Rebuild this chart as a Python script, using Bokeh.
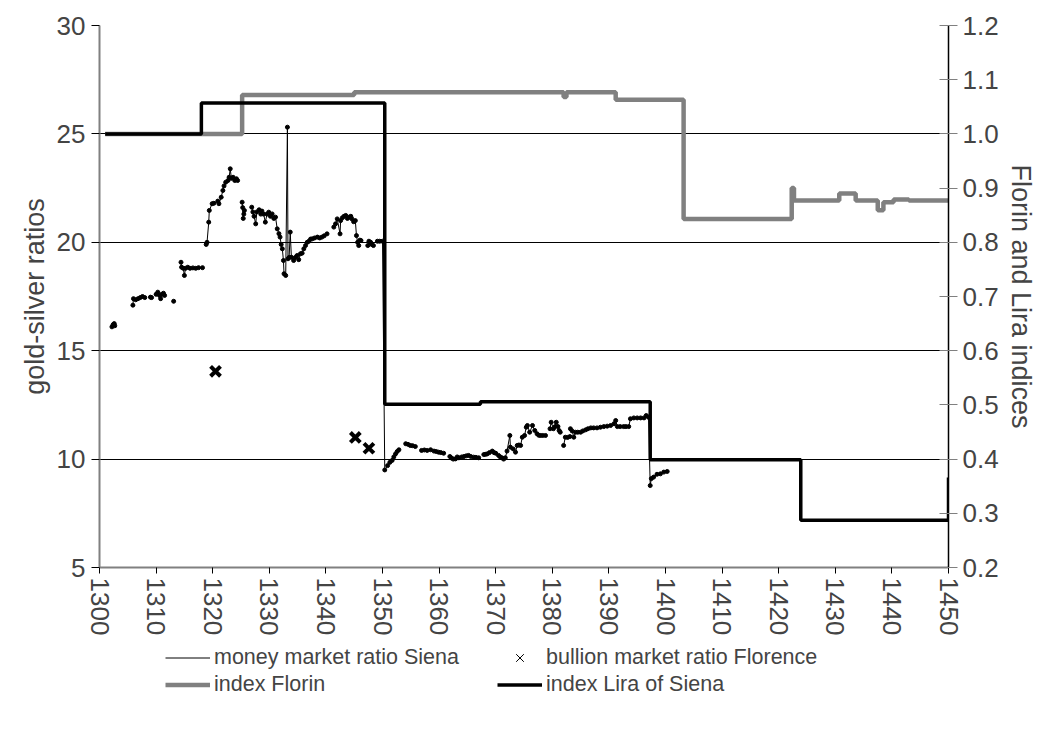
from bokeh.plotting import figure
from bokeh.layouts import column
from bokeh.models import (LinearAxis, Range1d, FixedTicker, NumeralTickFormatter,
                          Legend, LegendItem)
from bokeh.embed import file_html
from bokeh.resources import INLINE

NaN = float("nan")

# ---------------- data ----------------
x_ticks = [1300, 1310, 1320, 1330, 1340, 1350, 1360, 1370, 1380, 1390, 1400,
           1410, 1420, 1430, 1440, 1450]
ratio_ticks = [5, 10, 15, 20, 25, 30]
index_ticks = [0.2, 0.3, 0.4, 0.5, 0.6, 0.7, 0.8, 0.9, 1.0, 1.1, 1.2]

# money market ratio Siena (NaN = gap in the series)
money_year = [
    1302.2, 1302.4, 1302.6, 1302.7, NaN,
    1305.9, 1306.0, 1306.4, 1306.8, 1307.2, 1307.6, 1308.0, NaN,
    1309.0, 1309.2, NaN,
    1310.0, 1310.3, 1310.6, 1310.8, 1311.0, 1311.3, 1311.5, NaN,
    1313.1, NaN,
    1314.4, 1314.5, 1314.8, 1315.0, 1315.2, 1315.6, 1316.0, 1316.5, 1317.0, 1317.5, 1318.2, NaN,
    1318.85, 1319.0, 1319.3, 1319.4, 1319.9, 1320.2, 1320.9, 1321.1, 1321.5, 1321.8, 1322.0,
    1322.3, 1322.7, 1322.9, 1323.1, 1323.3, 1323.6, 1323.9, 1324.2, 1324.4, NaN,
    1325.2, 1325.3, 1325.4, 1325.5, 1325.6, NaN,
    1326.9, 1327.1, 1327.3, 1327.6, 1327.8, 1328.2, 1328.5, 1328.7, 1329.0, 1329.3, 1329.6,
    1329.9, 1330.2, 1330.5, 1330.8, 1331.1, 1331.4, 1331.7, 1331.9, 1332.1, 1332.3, 1332.5,
    1332.6, 1332.9, 1333.2, 1333.3, 1333.5, 1333.7, 1333.9, 1334.3, 1334.6, 1334.9, 1335.2,
    1335.5, 1335.8, 1336.1, 1336.4, 1336.7, 1337.0, 1337.3, 1337.6, 1338.0, 1338.5, 1338.9,
    1339.3, 1339.7, 1340.2, NaN,
    1341.4, 1341.7, 1342.0, 1342.5, 1342.6, 1342.9, 1343.2, 1343.5, 1343.8, 1344.1, 1344.4,
    1344.6, 1344.9, 1345.2, 1345.4, 1345.6, 1345.8, 1346.0, 1346.2, NaN,
    1347.4, 1347.6, 1347.9, 1348.1, 1348.4, NaN,
    1349.1, 1349.5, 1350.0, 1350.4, 1350.9, 1351.3, 1351.7, 1352.0, 1352.3, 1352.6, 1352.9, NaN,
    1354.1, 1354.5, 1354.9, 1355.3, 1355.8, NaN,
    1356.9, 1357.4, 1357.9, 1358.5, 1359.1, 1359.5, 1359.9, 1360.3, 1360.8, NaN,
    1361.9, 1362.2, 1362.5, 1362.9, 1363.2, 1363.5, 1364.0, 1364.4, 1364.8, 1365.2, 1365.6,
    1366.1, 1366.5, 1367.0, NaN,
    1367.9, 1368.2, 1368.5, 1368.9, 1369.4, 1369.7, 1370.0, 1370.5, 1370.8, 1371.1, 1371.4,
    1371.7, 1372.0, 1372.5, 1372.6, 1373.1, 1373.5, 1373.8, 1374.1, 1374.4, 1374.7, 1375.1,
    1375.4, 1375.6, 1376.0, 1376.5, 1376.9, 1377.3, 1377.6, 1377.9, 1378.3, 1378.8, NaN,
    1379.6, 1379.8, 1380.2, 1380.5, 1380.7, 1381.0, 1381.2, 1381.4, NaN,
    1382.0, 1382.3, 1382.7, 1383.1, NaN,
    1383.2, 1383.5, 1383.8, 1384.1, 1384.5, 1385.0, 1385.4, 1385.9, 1386.3, 1386.8, 1387.3,
    1387.9, 1388.5, 1389.1, 1389.7, 1390.3, 1390.9, 1391.2, 1391.5, 1392.0, 1392.6, 1393.0,
    1393.5, 1393.8, 1394.4, 1395.0, 1395.6, 1396.2, 1396.6, 1397.0, 1397.3, 1397.5, 1397.9,
    1398.5, 1399.1, 1399.7, 1400.3,
]
money_ratio = [
    16.1, 16.2, 16.25, 16.15, NaN,
    17.1, 17.4, 17.35, 17.4, 17.45, 17.5, 17.45, NaN,
    17.47, 17.45, NaN,
    17.6, 17.7, 17.55, 17.4, 17.6, 17.65, 17.55, NaN,
    17.28, NaN,
    19.08, 18.85, 18.8, 18.47, 18.8, 18.85, 18.8, 18.82, 18.8, 18.83, 18.83, NaN,
    19.9, 20.0, 20.93, 21.47, 21.78, 21.8, 21.9, 21.78, 22.08, 22.39, 22.6,
    22.77, 22.85, 23.0, 23.39, 22.95, 23.0, 22.85, 22.93, 22.85, NaN,
    21.85, 21.6, 21.1, 21.3, 21.47, NaN,
    21.62, 21.4, 21.2, 20.85, 21.4, 21.5, 21.3, 21.44, 21.3, 20.93, 21.3,
    21.39, 21.2, 21.31, 21.1, 21.16, 20.62, 20.4, 20.24, 19.9, 19.7, 19.16,
    18.55, 18.47, 25.31, 19.24, 19.3, 20.47, 19.31, 19.16, 19.3, 19.39, 19.2,
    19.47, 19.5, 19.7, 19.85, 20.0, 20.05, 20.15, 20.16, 20.2, 20.24, 20.2,
    20.24, 20.3, 20.39, NaN,
    20.70, 20.85, 21.08, 20.39, 21.0, 21.13, 21.2, 21.24, 21.1, 21.16, 21.2,
    21.08, 20.95, 21.0, 20.31, 20.0, 19.85, 20.1, 20.08, NaN,
    19.85, 20.05, 20.0, 19.9, 19.85, NaN,
    20.05, 20.05, 20.05, 9.5, 9.7, 9.85, 9.94, 10.1, 10.24, 10.35, 10.43, NaN,
    10.71, 10.68, 10.63, 10.62, 10.58, NaN,
    10.4, 10.42, 10.4, 10.43, 10.37, 10.35, 10.32, 10.3, 10.27, NaN,
    10.12, 10.05, 10.0, 10.01, 10.1, 10.06, 10.1, 10.12, 10.15, 10.17, 10.12,
    10.09, 10.08, 10.06, NaN,
    10.21, 10.22, 10.24, 10.3, 10.37, 10.3, 10.27, 10.17, 10.1, 10.06, 10.0,
    10.06, 10.37, 11.09, 10.55, 10.47, 10.32, 10.63, 10.65, 10.63, 11.01, 11.09,
    11.47, 11.55, 11.24, 11.55, 11.32, 11.17, 11.1, 11.09, 11.09, 11.09, NaN,
    11.40, 11.70, 11.40, 11.5, 11.70, 11.5, 11.32, 11.24, NaN,
    10.63, 11.01, 11.0, 11.04, NaN,
    11.4, 11.3, 11.01, 11.24, 11.24, 11.24, 11.3, 11.35, 11.4, 11.44, 11.44,
    11.44, 11.47, 11.50, 11.52, 11.55, 11.63, 11.78, 11.50, 11.5, 11.50, 11.5,
    11.50, 11.86, 11.9, 11.90, 11.9, 11.90, 12.01, 11.93, 8.78, 9.1, 9.17,
    9.3, 9.32, 9.4, 9.43,
]

# bullion market ratio Florence
bullion_year = [1320.5, 1345.2, 1347.6]
bullion_ratio = [14.05, 11.0, 10.5]

# index Florin (step, value holds until next year)
florin_year = [1301, 1325.2, 1345.0, 1382.0, 1382.5, 1391.2, 1403.2, 1422.3, 1422.7,
               1430.7, 1433.6, 1437.5, 1438.5, 1440.3, 1443.0, 1450]
florin_index = [1.0, 1.072, 1.077, 1.068, 1.077, 1.063, 0.843, 0.900, 0.877,
                0.890, 0.877, 0.859, 0.874, 0.879, 0.877, 0.877]

# index Lira of Siena
lira_year = [1301, 1318.0, 1350.4, 1367.3, 1397.3, 1423.9, 1450]
lira_index = [1.0, 1.057, 0.501, 0.506, 0.399, 0.287, 0.366]

# ---------------- styles ----------------
FONT = "Liberation Sans"
GRAY = "#808080"
TICK_FS = "26px"
LABEL_FS = "27px"

FLORIN_STYLE = dict(line_color=GRAY, line_width=4.5)
LIRA_STYLE = dict(line_color="black", line_width=3.5)
MONEY_LINE_STYLE = dict(line_color="black", line_width=1)
MONEY_PT_STYLE = dict(marker="circle", size=4, fill_color="black", line_color="black")
BULLION_LEG_STYLE = dict(marker="x", size=10, line_color="black", line_width=1)

# ---------------- main chart ----------------
p = figure(width=1039, height=642,
           x_range=Range1d(1300, 1450), y_range=Range1d(5, 30),
           output_backend="svg", toolbar_location=None,
           min_border_left=99, min_border_right=91, min_border_top=25,
           min_border_bottom=75)
p.extra_y_ranges = {"idx": Range1d(0.2, 1.2)}
p.outline_line_color = None

p.xgrid.visible = False
p.ygrid.ticker = FixedTicker(ticks=ratio_ticks)
p.ygrid.grid_line_color = "black"
p.ygrid.grid_line_width = 1

ya = p.yaxis[0]
ya.ticker = FixedTicker(ticks=ratio_ticks)
ya.axis_label = "gold-silver ratios"
ya.axis_label_text_font = FONT
ya.axis_label_text_font_size = LABEL_FS
ya.axis_label_text_font_style = "normal"
ya.axis_label_standoff = 4
ya.major_label_text_font = FONT
ya.major_label_text_font_size = TICK_FS
ya.axis_line_color = GRAY
ya.axis_line_width = 2
ya.major_tick_line_color = "black"
ya.major_tick_out = 8
ya.major_tick_in = 0
ya.minor_tick_line_color = None
ya.major_label_standoff = 6

xa = p.xaxis[0]
xa.ticker = FixedTicker(ticks=x_ticks)
xa.major_label_orientation = "vertical"
xa.major_label_text_font = FONT
xa.major_label_text_font_size = TICK_FS
xa.axis_line_color = GRAY
xa.axis_line_width = 2
xa.major_tick_line_color = "black"
xa.major_tick_out = 6
xa.major_tick_in = 0
xa.minor_tick_line_color = None
xa.major_label_standoff = 4

ra = LinearAxis(y_range_name="idx", ticker=FixedTicker(ticks=index_ticks),
                formatter=NumeralTickFormatter(format="0.0"))
ra.axis_label = "Florin and Lira indices"
ra.axis_label_text_font = FONT
ra.axis_label_text_font_size = LABEL_FS
ra.axis_label_text_font_style = "normal"
ra.axis_label_standoff = 4
ra.major_label_text_font = FONT
ra.major_label_text_font_size = TICK_FS
ra.axis_line_color = "black"
ra.axis_line_width = 1.5
ra.major_tick_line_color = GRAY
ra.major_tick_out = 9
ra.major_tick_in = 9
ra.minor_tick_line_color = None
ra.major_label_standoff = 5
p.add_layout(ra, "right")

p.step(florin_year, florin_index, mode="after", y_range_name="idx", **FLORIN_STYLE)
p.step(lira_year, lira_index, mode="after", y_range_name="idx", **LIRA_STYLE)
p.line(money_year, money_ratio, **MONEY_LINE_STYLE)
p.scatter(money_year, money_ratio, **MONEY_PT_STYLE)
p.scatter(bullion_year, bullion_ratio, marker="x", size=14, line_color="black",
          line_width=4)

# ---------------- legend strip (own small figure under the chart) ----------------
q = figure(width=1039, height=103, x_range=Range1d(0, 1), y_range=Range1d(0, 1),
           output_backend="svg", toolbar_location=None,
           min_border_left=0, min_border_right=0, min_border_top=0, min_border_bottom=0)
q.axis.visible = False
q.grid.visible = False
q.outline_line_color = None
# same series drawn outside this strip's view, only to carry the legend swatches
l_money_line = q.line(money_year, money_ratio, **MONEY_LINE_STYLE)
l_bullion = q.scatter(bullion_year, bullion_ratio, **BULLION_LEG_STYLE)
l_florin = q.step(florin_year, florin_index, mode="after", **FLORIN_STYLE)
l_lira = q.step(lira_year, lira_index, mode="after", **LIRA_STYLE)


def make_legend(items, loc):
    lg = Legend(items=items, orientation="horizontal", location=loc)
    lg.label_text_font = FONT
    lg.label_text_font_size = "21.5px"
    lg.glyph_width = 45
    lg.glyph_height = 27
    lg.label_height = 27
    lg.label_width = 283
    lg.label_standoff = 4
    lg.spacing = 0
    lg.padding = 0
    lg.margin = 0
    lg.border_line_color = None
    lg.background_fill_alpha = 0
    return lg


q.add_layout(make_legend([
    LegendItem(label="money market ratio Siena", renderers=[l_money_line]),
    LegendItem(label="bullion market ratio Florence", renderers=[l_bullion]),
], (66, 74)))
q.add_layout(make_legend([
    LegendItem(label="index Florin", renderers=[l_florin]),
    LegendItem(label="index Lira of Siena", renderers=[l_lira]),
], (66, 47)))

page = column(p, q, spacing=0)
open("out.html", "w").write(file_html(page, INLINE))
